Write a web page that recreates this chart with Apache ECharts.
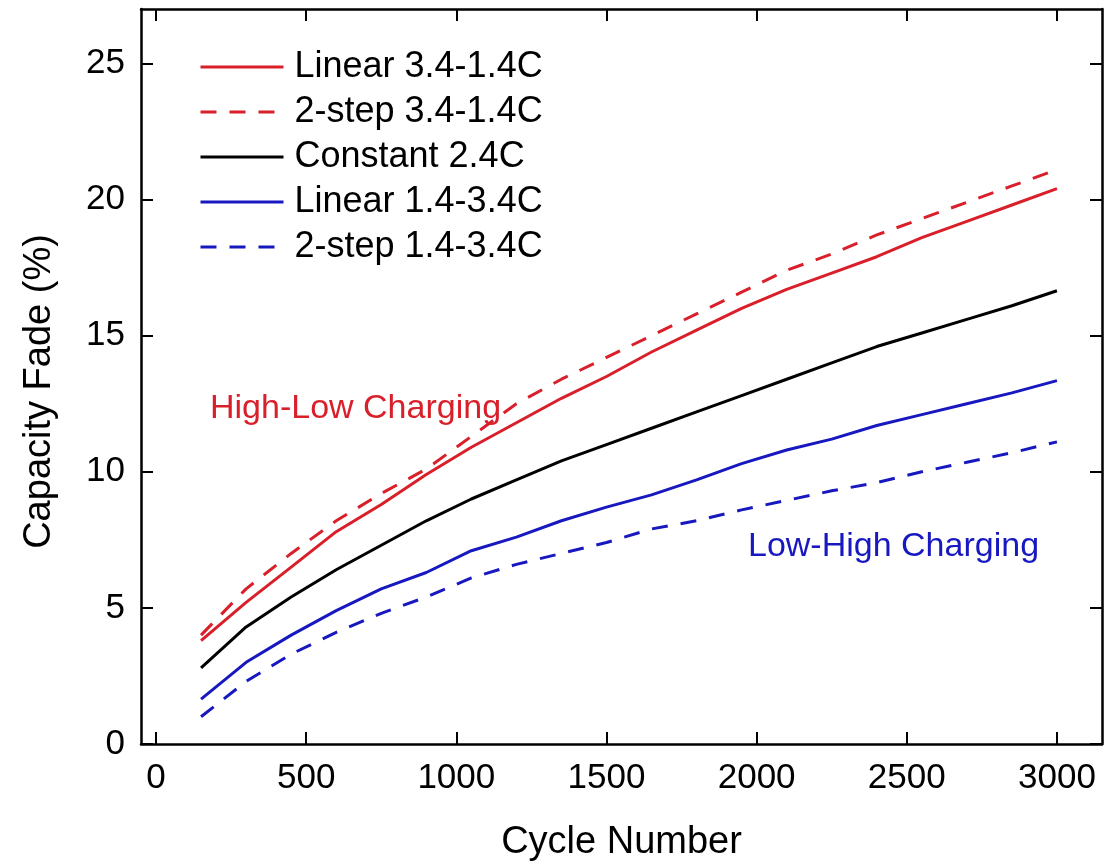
<!DOCTYPE html>
<html>
<head>
<meta charset="utf-8">
<title>Capacity Fade vs Cycle Number</title>
<script src="https://cdn.jsdelivr.net/npm/echarts@6/dist/echarts.min.js"></script>
<style>
  html, body { margin: 0; padding: 0; background: #fff; }
  #chart { width: 1104px; height: 867px; }
</style>
</head>
<body>
<div id="chart"></div>
<script>
// Cycle numbers at which capacity fade was evaluated
const cycles = [150, 300, 450, 600, 750, 900, 1050, 1200, 1350, 1500, 1650, 1800, 1950, 2100, 2250, 2400, 2550, 2700, 2850, 3000];

// Capacity fade (%) for each charging protocol
const linearHighLow = [3.8, 5.2, 6.5, 7.8, 8.8, 9.9, 10.9, 11.8, 12.7, 13.5, 14.4, 15.2, 16.0, 16.7, 17.3, 17.9, 18.6, 19.2, 19.8, 20.4];
const stepHighLow   = [4.0, 5.7, 7.0, 8.2, 9.2, 10.1, 11.3, 12.5, 13.4, 14.2, 15.0, 15.8, 16.6, 17.4, 18.0, 18.7, 19.3, 19.9, 20.5, 21.1];
const constant24    = [2.8, 4.3, 5.4, 6.4, 7.3, 8.2, 9.0, 9.7, 10.4, 11.0, 11.6, 12.2, 12.8, 13.4, 14.0, 14.6, 15.1, 15.6, 16.1, 16.65];
const linearLowHigh = [1.65, 3.0, 4.0, 4.9, 5.7, 6.3, 7.1, 7.6, 8.2, 8.7, 9.15, 9.7, 10.3, 10.8, 11.2, 11.7, 12.1, 12.5, 12.9, 13.35];
const stepLowHigh   = [1.0, 2.3, 3.3, 4.1, 4.8, 5.4, 6.1, 6.6, 7.0, 7.4, 7.9, 8.2, 8.6, 8.95, 9.3, 9.6, 10.0, 10.35, 10.7, 11.1];

// Tick positions
const xTicks = [0, 500, 1000, 1500, 2000, 2500, 3000];
const yTicks = [0, 5, 10, 15, 20, 25];

const seriesNames = ['Linear 3.4-1.4C', '2-step 3.4-1.4C', 'Constant 2.4C', 'Linear 1.4-3.4C', '2-step 1.4-3.4C'];

const RED = '#d9202a';
const BLUE = '#1818c0';
const FONT = 'Liberation Sans, Arial, sans-serif';

function pairs(values) {
  return cycles.map((c, i) => [c, values[i]]);
}

function lineSeries(name, values, color, dashed) {
  return {
    name: name,
    type: 'line',
    data: pairs(values),
    symbol: 'none',
    smooth: false,
    xAxisIndex: 0,
    yAxisIndex: 0,
    lineStyle: { color: color, width: 3, type: dashed ? [16, 13] : 'solid' },
    itemStyle: { color: color },
    emphasis: { disabled: true }
  };
}

const plainNumber = v => String(v);
const axisLineStyle = { color: '#000', width: 2.5 };
const tickStyle = { color: '#000', width: 2 };

const chart = echarts.init(document.getElementById('chart'), null, { renderer: 'canvas' });

chart.setOption({
  animation: false,
  backgroundColor: '#fff',
  grid: { left: 141, right: 2, top: 9, bottom: 120, containLabel: false },
  legend: {
    orient: 'vertical',
    left: 199,
    top: 49,
    padding: 0,
    itemWidth: 83,
    itemHeight: 14,
    itemGap: 9,
    data: seriesNames,
    itemStyle: { opacity: 0 },
    lineStyle: { width: 3 },
    textStyle: { fontFamily: FONT, fontSize: 36, color: '#000', lineHeight: 36, padding: [0, 0, 0, 6] },
    selectedMode: false
  },
  xAxis: [
    {
      type: 'value',
      position: 'bottom',
      min: -50,
      max: 3150,
      name: 'Cycle Number',
      nameLocation: 'middle',
      nameGap: 80,
      nameTextStyle: { fontFamily: FONT, fontSize: 38, color: '#000' },
      axisLine: { show: true, onZero: false, lineStyle: axisLineStyle },
      axisTick: { show: true, inside: true, length: 12, lineStyle: tickStyle, customValues: xTicks },
      axisLabel: { show: true, customValues: xTicks, formatter: plainNumber, fontFamily: FONT, fontSize: 35, color: '#000', margin: 17 },
      splitLine: { show: false }
    },
    {
      type: 'value',
      position: 'top',
      min: -50,
      max: 3150,
      axisLine: { show: true, onZero: false, lineStyle: axisLineStyle },
      axisTick: { show: true, inside: true, length: 12, lineStyle: tickStyle, customValues: xTicks },
      axisLabel: { show: false },
      splitLine: { show: false }
    }
  ],
  yAxis: [
    {
      type: 'value',
      position: 'left',
      min: 0,
      max: 27,
      name: 'Capacity Fade (%)',
      nameLocation: 'middle',
      nameGap: 82,
      nameTextStyle: { fontFamily: FONT, fontSize: 38, color: '#000', padding: [0, 30, 0, 0] },
      axisLine: { show: true, onZero: false, lineStyle: axisLineStyle },
      axisTick: { show: true, inside: true, length: 12, lineStyle: tickStyle, customValues: yTicks },
      axisLabel: { show: true, customValues: yTicks, formatter: plainNumber, fontFamily: FONT, fontSize: 35, color: '#000', margin: 16 },
      splitLine: { show: false }
    },
    {
      type: 'value',
      position: 'right',
      min: 0,
      max: 27,
      axisLine: { show: true, onZero: false, lineStyle: axisLineStyle },
      axisTick: { show: true, inside: true, length: 12, lineStyle: tickStyle, customValues: yTicks },
      axisLabel: { show: false },
      splitLine: { show: false }
    }
  ],
  graphic: [
    {
      type: 'text',
      left: 210,
      top: 392,
      style: { text: 'High-Low Charging', fill: RED, font: '34px ' + FONT }
    },
    {
      type: 'text',
      left: 748,
      top: 530,
      style: { text: 'Low-High Charging', fill: BLUE, font: '34px ' + FONT }
    }
  ],
  series: [
    lineSeries(seriesNames[0], linearHighLow, RED, false),
    lineSeries(seriesNames[1], stepHighLow, RED, true),
    lineSeries(seriesNames[2], constant24, '#000', false),
    lineSeries(seriesNames[3], linearLowHigh, BLUE, false),
    lineSeries(seriesNames[4], stepLowHigh, BLUE, true)
  ]
});
</script>
</body>
</html>
